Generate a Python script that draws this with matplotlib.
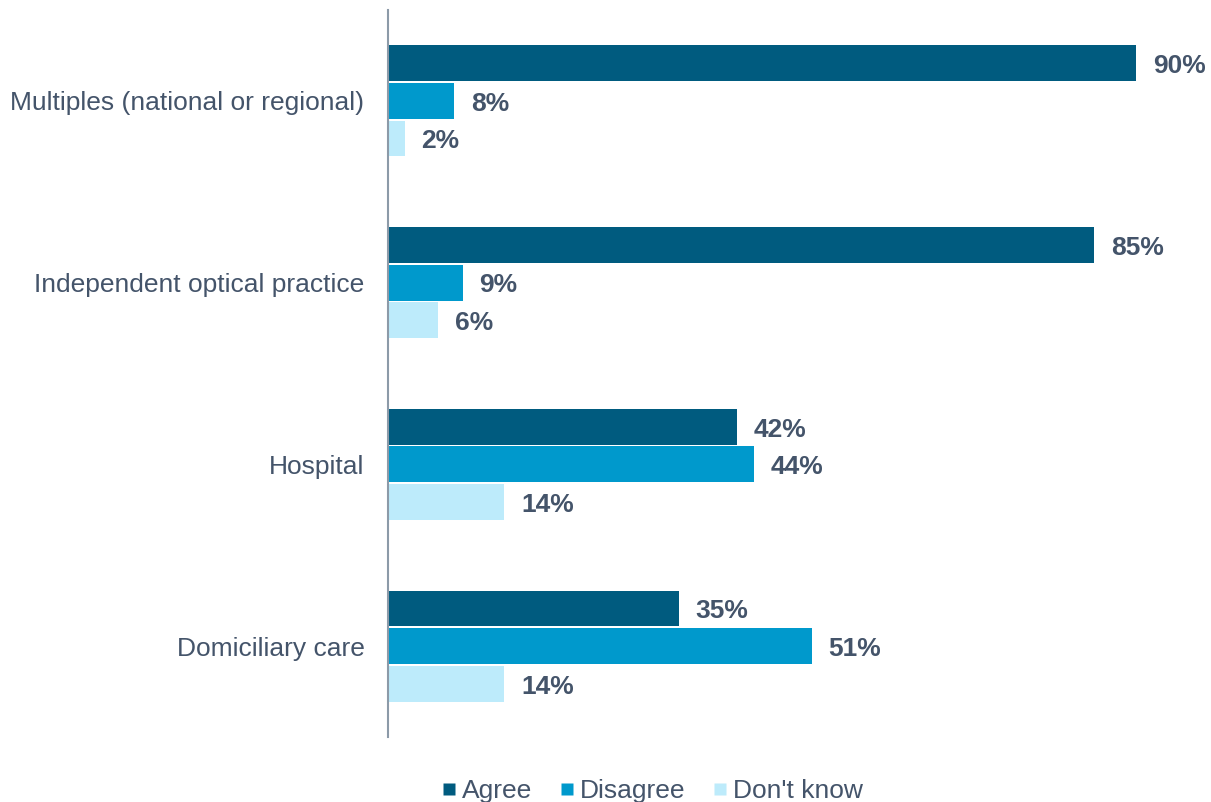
import matplotlib
matplotlib.use("Agg")
import matplotlib.pyplot as plt
from matplotlib.lines import Line2D
import numpy as np

plt.rcParams['font.family'] = ['Liberation Sans', 'DejaVu Sans']

categories = ["Multiples (national or regional)", "Independent optical practice",
              "Hospital", "Domiciliary care"]
series_names = ["Agree", "Disagree", "Don't know"]
agree = [90, 85, 42, 35]
disagree = [8, 9, 44, 51]
dont_know = [2, 6, 14, 14]
series_values = [agree, disagree, dont_know]
colors = ["#005B7F", "#0099CC", "#BDEBFB"]
text_color = "#44546A"

W, H = 1211, 802
fig = plt.figure(figsize=(W / 100, H / 100), dpi=100)
ax = fig.add_axes([388 / W, 1 - 737 / H, (W - 388) / W, 727 / H])

y = np.arange(len(categories))
step = 0.207
height = 0.198
for i, (vals, col) in enumerate(zip(series_values, colors)):
    pos = y + (i - 1) * step
    bars = ax.barh(pos, vals, height=height, color=col, edgecolor='none')
    for b, v in zip(bars, vals):
        ax.annotate(f"{v}%", xy=(v, b.get_y() + b.get_height() / 2),
                    xytext=(12, -2), textcoords='offset points',
                    ha='left', va='center', fontsize=19, fontweight='bold',
                    color=text_color)

ax.set_xlim(0, (W - 388) / 8.311)
ax.set_ylim(len(categories) - 0.5, -0.5)
ax.set_yticks(y)
ax.set_yticklabels(categories, fontsize=19, color=text_color)
ax.tick_params(axis='y', length=0, pad=17)
ax.set_xticks([])
for s in ['top', 'right', 'bottom']:
    ax.spines[s].set_visible(False)
ax.spines['left'].set_color('#8C9AA8')
ax.spines['left'].set_linewidth(1.5)

handles = [Line2D([0], [0], marker='s', linestyle='none', markersize=8,
                  markerfacecolor=c, markeredgecolor='none') for c in colors]
fig.legend(handles, series_names, loc='center', ncol=3,
           bbox_to_anchor=(653 / W, 1 - 791 / H), frameon=False,
           fontsize=19, labelcolor=text_color, handlelength=0.45,
           handletextpad=0.25, columnspacing=1.1, borderpad=0)

fig.savefig("out.png", dpi=100)
